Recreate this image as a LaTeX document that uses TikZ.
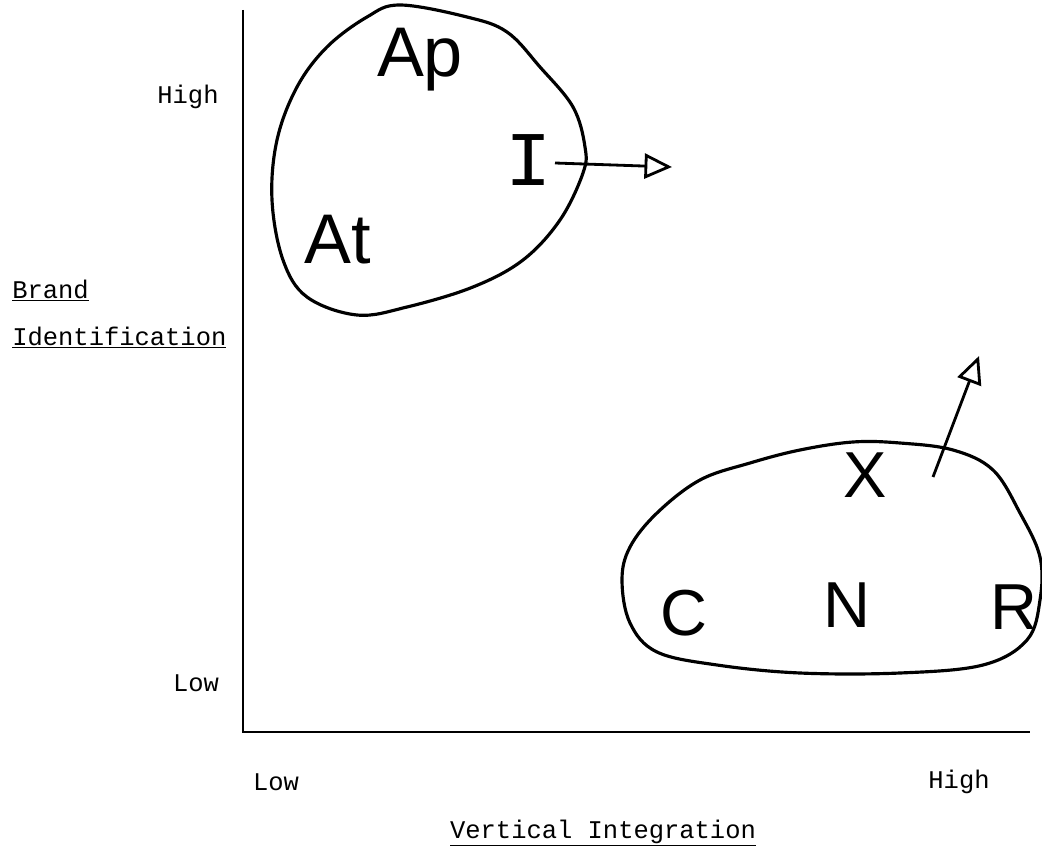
\documentclass[tikz,border=0pt]{standalone}
\usepackage{fontspec}
\setmonofont{Liberation Mono}
\newfontfamily\handfont{Liberation Sans}
\usetikzlibrary{arrows.meta}

\tikzset{
  axislabel/.style={font=\ttfamily\fontsize{14.5}{17}\selectfont, inner sep=0pt},
  hand/.style={font=\handfont\fontsize{37}{40}\selectfont, inner sep=0pt},
  bighand/.style={font=\handfont\fontsize{40}{44}\selectfont, inner sep=0pt},
  blob/.style={line width=1.8pt, line join=round},
  move/.style={line width=1.6pt, -{Triangle[open, length=5.5mm, width=5mm, line width=1.6pt]}}
}

\begin{document}
\begin{tikzpicture}[x=0.02cm, y=-0.02cm]
\useasboundingbox (0,0) rectangle (1042,848);
% axes
\coordinate (top) at (243,10);
\coordinate (origin) at (243,732);
\coordinate (right) at (1030,732);
\draw[line width=1.5pt] (top) -- (origin) -- (right);
% axis labels
\node[axislabel] at (188,97)(yhigh){High};
\node[axislabel] at (196,683)(ylow){Low};
\node[axislabel, anchor=base west] at (12,298)(brand){\underline{Brand}};
\node[axislabel, anchor=base west] at (12,345)(ident){\underline{Identification}};
\node[axislabel] at (276,782)(xlow){Low};
\node[axislabel] at (959,782)(xhigh){High};
\node[axislabel, anchor=base] at (603,838)(vint){\underline{Vertical Integration}};
% upper group
\draw[blob] plot[smooth cycle, tension=0.6] coordinates {
  (400,5) (467,17) (507,32) (540,67) (573,107) (585,147) (583,173)
  (560,220) (523,260) (473,287) (407,307) (357,315) (307,297)
  (283,260) (272,200) (277,140) (297,87) (327,47) (367,17)};
\node[bighand] at (420,60)(Ap){Ap};
\node[hand, font=\ttfamily\fontsize{44}{48}\selectfont] at (529,160)(I){I};
\node[bighand] at (338,240)(At){At};
\coordinate (Istart) at (555,163);
\coordinate (Iend) at (672,167);
\draw[move] (Istart) -- (Iend);
% lower group
\draw[blob] plot[smooth cycle, tension=0.6] coordinates {
  (800,450) (853,442) (900,443) (953,450) (993,470) (1020,513)
  (1040,557) (1040,600) (1027,640) (983,665) (900,673) (800,673)
  (717,665) (657,652) (630,623) (622,580) (630,547) (657,513)
  (700,480) (750,463)};
\node[hand] at (865,475)(X){X};
\node[hand] at (684,613)(C){C};
\node[hand] at (847,605)(N){N};
\node[hand] at (1014,607)(R){R};
\coordinate (Xstart) at (933,477);
\coordinate (Xend) at (979,356);
\draw[move] (Xstart) -- (Xend);
\end{tikzpicture}
\end{document}
